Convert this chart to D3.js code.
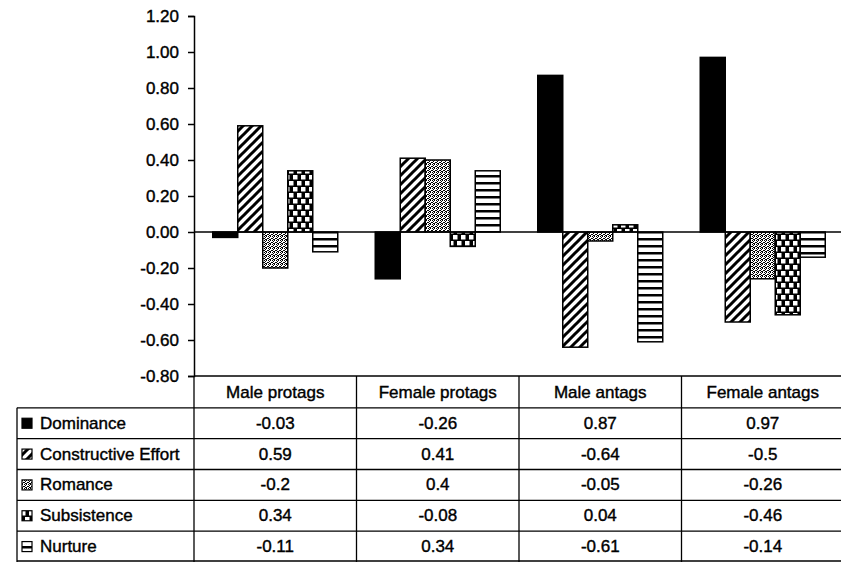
<!DOCTYPE html>
<html>
<head>
<meta charset="utf-8">
<script src="https://cdn.jsdelivr.net/npm/d3@7"></script>
<style>
  html, body { margin: 0; padding: 0; background: #fff; }
  svg { display: block; }
  text { font-family: "Liberation Sans", Arial, sans-serif; fill: #000; }
</style>
</head>
<body>
<svg id="chart" width="841" height="562"></svg>
<script>
// ---- data ----
const categories = ["Male protags", "Female protags", "Male antags", "Female antags"];
const seriesNames = ["Dominance", "Constructive Effort", "Romance", "Subsistence", "Nurture"];
const dominance = [-0.03, -0.26, 0.87, 0.97];
const constructiveEffort = [0.59, 0.41, -0.64, -0.5];
const romance = [-0.2, 0.4, -0.05, -0.26];
const subsistence = [0.34, -0.08, 0.04, -0.46];
const nurture = [-0.11, 0.34, -0.61, -0.14];
const yTicks = [1.2, 1.0, 0.8, 0.6, 0.4, 0.2, 0.0, -0.2, -0.4, -0.6, -0.8];

const seriesValues = [dominance, constructiveEffort, romance, subsistence, nurture];
const patternIds = ["p-solid", "p-diag", "p-dots", "p-check", "p-horiz"];

const svg = d3.select("#chart");
const defs = svg.append("defs");

// diagonal stripes
const pd = defs.append("pattern").attr("id", "p-diag").attr("patternUnits", "userSpaceOnUse")
  .attr("width", 9).attr("height", 9);
pd.append("rect").attr("width", 9).attr("height", 9).attr("fill", "#fff");
pd.append("path").attr("d", "M-2,11 L11,-2 M-2,2 L2,-2 M7,11 L11,7")
  .attr("stroke", "#000").attr("stroke-width", 3);
// fine stipple
const pdo = defs.append("pattern").attr("id", "p-dots").attr("patternUnits", "userSpaceOnUse")
  .attr("width", 4).attr("height", 4);
pdo.append("rect").attr("width", 4).attr("height", 4).attr("fill", "#fff");
[[0,0],[2,0],[1,1],[3,2],[0,2],[2,3],[1,3]].forEach(([a,b]) =>
  pdo.append("rect").attr("x", a).attr("y", b).attr("width", 1).attr("height", 1).attr("fill", "#000"));
// checker
const pc = defs.append("pattern").attr("id", "p-check").attr("patternUnits", "userSpaceOnUse")
  .attr("width", 8).attr("height", 12);
pc.append("rect").attr("width", 8).attr("height", 12).attr("fill", "#000");
pc.append("rect").attr("x", 1).attr("y", 1).attr("width", 4.5).attr("height", 4.5).attr("fill", "#fff");
pc.append("rect").attr("x", 5).attr("y", 7).attr("width", 4.5).attr("height", 4.5).attr("fill", "#fff");
pc.append("rect").attr("x", -3).attr("y", 7).attr("width", 4.5).attr("height", 4.5).attr("fill", "#fff");
// horizontal stripes
const ph = defs.append("pattern").attr("id", "p-horiz").attr("patternUnits", "userSpaceOnUse")
  .attr("width", 7).attr("height", 7);
ph.append("rect").attr("width", 7).attr("height", 7).attr("fill", "#fff");
ph.append("rect").attr("y", 0).attr("width", 7).attr("height", 2.5).attr("fill", "#000");

const fillFor = i => i === 0 ? "#000" : `url(#${patternIds[i]})`;

// ---- scales ----
const plotLeft = 194, plotRight = 844, plotTop = 16, plotBottom = 376;
const x0 = d3.scaleBand().domain(categories).range([plotLeft, plotRight])
  .paddingInner(1.5 / 6.5).paddingOuter(0.75 / 6.5);
const x1 = d3.scaleBand().domain(seriesNames).range([0, x0.bandwidth()]).padding(0);
const y = d3.scaleLinear().domain([-0.8, 1.2]).range([plotBottom, plotTop]);

// ---- bars ----
const g = svg.append("g");
seriesNames.forEach((s, si) => {
  g.selectAll(null).data(categories).join("rect")
    .attr("x", c => x0(c) + x1(s))
    .attr("width", x1.bandwidth())
    .attr("y", (c, ci) => y(Math.max(0, seriesValues[si][ci])))
    .attr("height", (c, ci) => Math.abs(y(seriesValues[si][ci]) - y(0)))
    .attr("fill", fillFor(si))
    .attr("stroke", "#000").attr("stroke-width", 1.5);
});

// zero line
svg.append("line").attr("x1", plotLeft).attr("x2", 841)
  .attr("y1", y(0)).attr("y2", y(0)).attr("stroke", "#000").attr("stroke-width", 1.5);

// ---- y axis ----
const yAxis = d3.axisLeft(y).tickValues(yTicks).tickFormat(d => d.toFixed(2))
  .tickSize(6).tickPadding(9);
const ya = svg.append("g").attr("transform", `translate(${plotLeft},0)`).call(yAxis);
ya.select(".domain").attr("stroke-width", 1.5);
ya.selectAll(".tick line").attr("stroke-width", 1.5);
ya.selectAll(".tick text").style("font-size", "17px").attr("font-family", "Liberation Sans, Arial, sans-serif")
  .attr("fill", "#000").attr("stroke", "#000").attr("stroke-width", 0.4);

// ---- data table ----
const rows = ["__header__", ...seriesNames];
const ty = d3.scaleBand().domain(rows).range([377, 562]).padding(0);
const tableLeft = 17;
const tg = svg.append("g");
const lineStyle = sel => sel.attr("stroke", "#000").attr("stroke-width", 1.3);

// horizontal lines
rows.forEach((r, i) => {
  const yy = i === 0 ? plotBottom : ty(r);
  tg.append("line").attr("x1", i === 0 ? plotLeft : tableLeft).attr("x2", 841)
    .attr("y1", yy).attr("y2", yy).call(lineStyle);
});
tg.append("line").attr("x1", tableLeft).attr("x2", 841)
  .attr("y1", 561).attr("y2", 561).call(lineStyle);
// vertical lines
tg.append("line").attr("x1", tableLeft).attr("x2", tableLeft)
  .attr("y1", ty(seriesNames[0])).attr("y2", 562).call(lineStyle);
categories.forEach(c => {
  const xx = x0(c) - x0.step() * x0.paddingInner() / 2;
  tg.append("line").attr("x1", xx).attr("x2", xx).attr("y1", plotBottom).attr("y2", 562).call(lineStyle);
});

const cellText = (sel) => sel.style("font-size", "17px").attr("text-anchor", "middle")
  .attr("dominant-baseline", "central").attr("stroke", "#000").attr("stroke-width", 0.4);

// header
categories.forEach(c => {
  tg.append("text").attr("x", x0(c) + x0.bandwidth() / 2)
    .attr("y", ty("__header__") + ty.bandwidth() / 2).text(c).call(cellText);
});
// body
seriesNames.forEach((s, si) => {
  const cy = ty(s) + ty.bandwidth() / 2;
  tg.append("rect").attr("x", 22).attr("y", cy - 5).attr("width", 10).attr("height", 10)
    .attr("fill", fillFor(si)).attr("stroke", "#000").attr("stroke-width", 1.2);
  tg.append("text").attr("x", 40).attr("y", cy).text(s).call(cellText).attr("text-anchor", "start");
  categories.forEach((c, ci) => {
    tg.append("text").attr("x", x0(c) + x0.bandwidth() / 2).attr("y", cy)
      .text(String(seriesValues[si][ci])).call(cellText);
  });
});
</script>
</body>
</html>
